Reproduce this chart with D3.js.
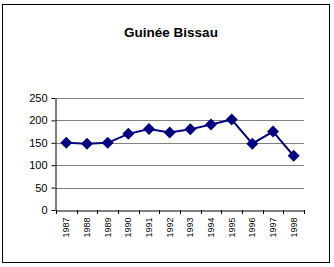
<!DOCTYPE html>
<html>
<head>
<meta charset="utf-8">
<script src="https://cdn.jsdelivr.net/npm/d3@7"></script>
<style>
body { margin: 0; background: #fff; }
text { font-family: "Liberation Sans", Arial, sans-serif; }
</style>
</head>
<body>
<svg id="chart" width="334" height="267"></svg>
<script>
var years = ["1987", "1988", "1989", "1990", "1991", "1992", "1993", "1994", "1995", "1996", "1997", "1998"];
var values = [150, 148, 150, 170, 181, 173, 180, 191, 202, 148, 175, 121];
var yTicks = [0, 50, 100, 150, 200, 250];

var svg = d3.select("#chart");

// outer frame
svg.append("rect")
    .attr("x", 2.5).attr("y", 4.5)
    .attr("width", 327).attr("height", 258)
    .attr("fill", "#fff")
    .attr("stroke", "#000")
    .attr("stroke-width", 1);

svg.append("text")
    .attr("x", 171).attr("y", 37)
    .attr("text-anchor", "middle")
    .attr("font-size", "13.5px")
    .attr("font-weight", "bold")
    .text("Guinée Bissau");

var plotLeft = 56, plotRight = 304, plotTop = 98, plotBottom = 210;

var x = d3.scaleBand().domain(years).range([plotLeft, plotRight]);
var y = d3.scaleLinear().domain([0, 250]).range([plotBottom, plotTop]);

// gridlines
svg.selectAll(".grid")
    .data(yTicks.filter(function (d) { return d > 0; }))
    .enter().append("line")
    .attr("x1", plotLeft).attr("x2", plotRight)
    .attr("y1", function (d) { return Math.round(y(d)) + 0.5; })
    .attr("y2", function (d) { return Math.round(y(d)) + 0.5; })
    .attr("stroke", "#808080")
    .attr("stroke-width", 1);

// y axis
var yAxis = svg.append("g")
    .attr("transform", "translate(" + (plotLeft - 0.5) + ",0)")
    .call(d3.axisLeft(y).tickValues(yTicks).tickSize(4).tickSizeOuter(0));
yAxis.attr("font-family", null);
yAxis.selectAll("text").attr("font-size", "11px").attr("fill", "#000").attr("x", -8);
yAxis.selectAll("line, path").attr("stroke", "#000");

// x axis
var xAxis = svg.append("g")
    .attr("transform", "translate(0," + (plotBottom + 0.5) + ")")
    .call(d3.axisBottom(x).tickSize(0).tickSizeOuter(0));
xAxis.attr("font-family", null);
xAxis.select("path").attr("stroke", "#000");
xAxis.selectAll(".tick text")
    .attr("font-size", "9px")
    .attr("fill", "#000")
    .attr("transform", "rotate(-90)")
    .attr("text-anchor", "end")
    .attr("x", -7)
    .attr("y", 0)
    .attr("dy", "0.35em");

// tick marks at band boundaries
svg.selectAll(".xtick")
    .data(years.concat(["end"]))
    .enter().append("line")
    .attr("x1", function (d, i) { return Math.round(plotLeft + i * x.bandwidth()) + 0.5; })
    .attr("x2", function (d, i) { return Math.round(plotLeft + i * x.bandwidth()) + 0.5; })
    .attr("y1", plotBottom)
    .attr("y2", plotBottom + 4)
    .attr("stroke", "#000");

var cx = function (d, i) { return x(years[i]) + x.bandwidth() / 2; };

var line = d3.line()
    .x(function (d, i) { return cx(d, i); })
    .y(function (d) { return y(d); });

svg.append("path")
    .datum(values)
    .attr("d", line)
    .attr("fill", "none")
    .attr("stroke", "#000080")
    .attr("stroke-width", 2);

svg.selectAll(".marker")
    .data(values)
    .enter().append("path")
    .attr("d", "M0,-6L6,0L0,6L-6,0Z")
    .attr("transform", function (d, i) { return "translate(" + cx(d, i) + "," + y(d) + ")"; })
    .attr("fill", "#000080");
</script>
</body>
</html>
